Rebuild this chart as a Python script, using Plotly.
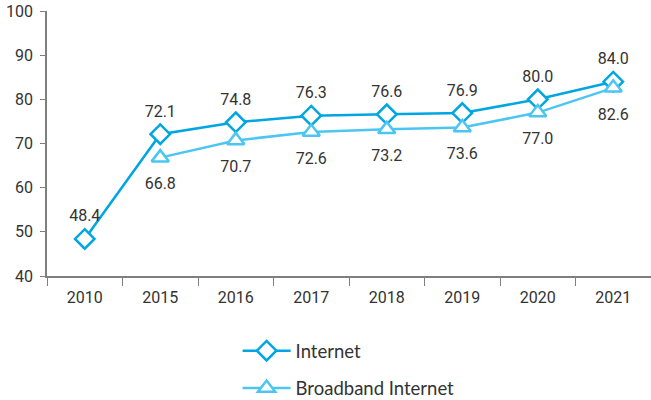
import plotly.graph_objects as go

years = ["2010", "2015", "2016", "2017", "2018", "2019", "2020", "2021"]
internet = [48.4, 72.1, 74.8, 76.3, 76.6, 76.9, 80.0, 84.0]
broadband_years = ["2015", "2016", "2017", "2018", "2019", "2020", "2021"]
broadband = [66.8, 70.7, 72.6, 73.2, 73.6, 77.0, 82.6]

c_net = "#00a6e2"
c_bb = "#4cc6f0"
label_font = dict(family="Roboto, Liberation Sans, Arial", size=16, color="#333333")
legend_font = dict(family="Lato, Open Sans, DejaVu Sans", size=18.5, color="#333333")

fig = go.Figure()
fig.add_trace(go.Scatter(
    x=years, y=internet, name="Internet", mode="lines+markers",
    line=dict(color=c_net, width=2.5),
    marker=dict(symbol="diamond", size=15, color="white", line=dict(color=c_net, width=2.5)),
    legend="legend",
))
fig.add_trace(go.Scatter(
    x=broadband_years, y=broadband, name="Broadband Internet", mode="lines+markers",
    line=dict(color=c_bb, width=2.5),
    marker=dict(symbol="triangle-up", size=15, color="white", line=dict(color=c_bb, width=2.5)),
    legend="legend2",
))

# value labels: transparent, larger markers set the label distance from the points
fig.add_trace(go.Scatter(
    x=years, y=internet, mode="markers+text", showlegend=False, hoverinfo="skip",
    marker=dict(size=20, color="rgba(0,0,0,0)"),
    text=[f"{v:.1f}" for v in internet], textposition="top center",
    textfont=label_font,
))
fig.add_trace(go.Scatter(
    x=broadband_years, y=broadband, mode="markers+text", showlegend=False, hoverinfo="skip",
    marker=dict(size=30, color="rgba(0,0,0,0)"),
    text=[f"{v:.1f}" for v in broadband], textposition="bottom center",
    textfont=label_font,
))

axis_line = "#7f7f7f"
legend_common = dict(
    xref="container", yref="container", x=0.365,
    xanchor="left", yanchor="middle", orientation="v",
    itemwidth=48, font=legend_font, bgcolor="rgba(0,0,0,0)",
)
fig.update_layout(
    width=651, height=400,
    margin=dict(l=47, r=0, t=11, b=124, autoexpand=False),
    paper_bgcolor="white", plot_bgcolor="white",
    showlegend=True,
    legend=dict(y=0.122, **legend_common),
    legend2=dict(y=0.029, **legend_common),
    xaxis=dict(
        type="category", range=[-0.5, 7.5], showgrid=False,
        showline=True, linecolor=axis_line, linewidth=1.5,
        ticks="outside", tickson="boundaries", ticklen=8, tickcolor=axis_line,
        tickfont=label_font, ticklabelstandoff=6,
    ),
    yaxis=dict(
        range=[40, 100], dtick=10, showgrid=False, zeroline=False,
        showline=True, linecolor=axis_line, linewidth=1.5,
        ticks="outside", ticklen=5, tickcolor=axis_line,
        tickfont=label_font, ticklabelstandoff=4,
    ),
)

fig.write_html("out.html")
